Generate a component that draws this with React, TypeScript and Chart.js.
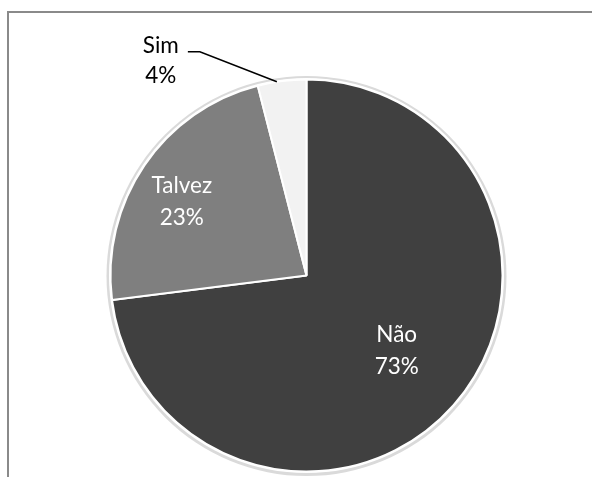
import React, { useEffect, useRef } from "react";
import { Chart, registerables } from "chart.js";

Chart.register(...registerables);

const categories = ["Não", "Talvez", "Sim"];
const values = [73, 23, 4];
const sliceColors = ["#404040", "#7f7f7f", "#f2f2f2"];
const labelColors = ["#ffffff", "#ffffff", "#000000"];

export default function App() {
  const ref = useRef<HTMLCanvasElement>(null);

  useEffect(() => {
    if (!ref.current) return;
    const total = values.reduce((a, b) => a + b, 0);
    const FONT = "22.5px Lato";
    const LINE = 32;
    // label placement: fraction of radius, angle shift (deg); -1 => outside w/ leader
    const labelFrac = [0.6, 0.74, -1];
    const labelShift = [-1.5, -3.5, 0];

    const ringPlugin = {
      id: "ring",
      beforeDatasetsDraw(chart: any) {
        const el = chart.getDatasetMeta(0).data[0];
        if (!el) return;
        const { x, y, outerRadius } = el.getProps(["x", "y", "outerRadius"], true);
        const ctx = chart.ctx;
        ctx.save();
        ctx.beginPath();
        ctx.arc(x, y + 0.5, outerRadius + 4, 0, Math.PI * 2);
        ctx.fillStyle = "#dadada";
        ctx.fill();
        ctx.beginPath();
        ctx.arc(x, y, outerRadius + 1.5, 0, Math.PI * 2);
        ctx.fillStyle = "#ffffff";
        ctx.fill();
        ctx.restore();
      },
    };

    const labelPlugin = {
      id: "lbl",
      afterDatasetsDraw(chart: any) {
        const meta = chart.getDatasetMeta(0);
        const ctx = chart.ctx;
        ctx.save();
        ctx.font = FONT;
        ctx.textAlign = "center";
        ctx.textBaseline = "middle";
        meta.data.forEach((el: any, i: number) => {
          const { x, y, startAngle, endAngle, outerRadius } = el.getProps(
            ["x", "y", "startAngle", "endAngle", "outerRadius"],
            true
          );
          const pct = Math.round((values[i] / total) * 100) + "%";
          const mid = (startAngle + endAngle) / 2;
          ctx.fillStyle = labelColors[i];
          if (labelFrac[i] > 0) {
            const a = mid + (labelShift[i] * Math.PI) / 180;
            const r = outerRadius * labelFrac[i];
            const cx = x + Math.cos(a) * r;
            const cy = y + Math.sin(a) * r;
            ctx.fillText(categories[i], cx, cy - LINE / 2);
            ctx.fillText(pct, cx, cy + LINE / 2);
          } else {
            const a = mid - (1.5 * Math.PI) / 180;
            const ex = x + Math.cos(a) * outerRadius;
            const ey = y + Math.sin(a) * outerRadius;
            const elbowX = ex - 77;
            const elbowY = ey - 30;
            const endX = elbowX - 12;
            ctx.beginPath();
            ctx.moveTo(ex, ey);
            ctx.lineTo(elbowX, elbowY);
            ctx.lineTo(endX, elbowY);
            ctx.strokeStyle = "#000000";
            ctx.lineWidth = 1.5;
            ctx.stroke();
            const tx = endX - 27;
            const ty = elbowY - 6;
            ctx.fillText(categories[i], tx, ty);
            ctx.fillText(pct, tx, ty + 30);
          }
        });
        ctx.restore();
      },
    };

    const chart = new Chart(ref.current, {
      type: "pie",
      data: {
        labels: categories,
        datasets: [
          {
            data: values,
            backgroundColor: sliceColors,
            borderColor: "#ffffff",
            borderWidth: 2,
          },
        ],
      },
      options: {
        responsive: false,
        animation: false,
        radius: 196,
        layout: { padding: { left: 21, right: 0, top: 74, bottom: 0 } },
        plugins: {
          legend: { display: false },
          tooltip: { enabled: false },
        },
      } as any,
      plugins: [ringPlugin, labelPlugin],
    });
    return () => chart.destroy();
  }, []);

  return (
    <div
      style={{
        position: "fixed",
        left: 0,
        top: 0,
        width: 592,
        height: 477,
        overflow: "hidden",
        background: "#ffffff",
      }}
    >
      <div
        style={{
          position: "absolute",
          left: 7,
          top: 11,
          width: 800,
          height: 800,
          borderLeft: "2px solid #8a8a8a",
          borderTop: "2px solid #8a8a8a",
        }}
      />
      <canvas
        ref={ref}
        width={592}
        height={477}
        style={{ position: "absolute", left: 0, top: 0, width: 592, height: 477 }}
      />
    </div>
  );
}
